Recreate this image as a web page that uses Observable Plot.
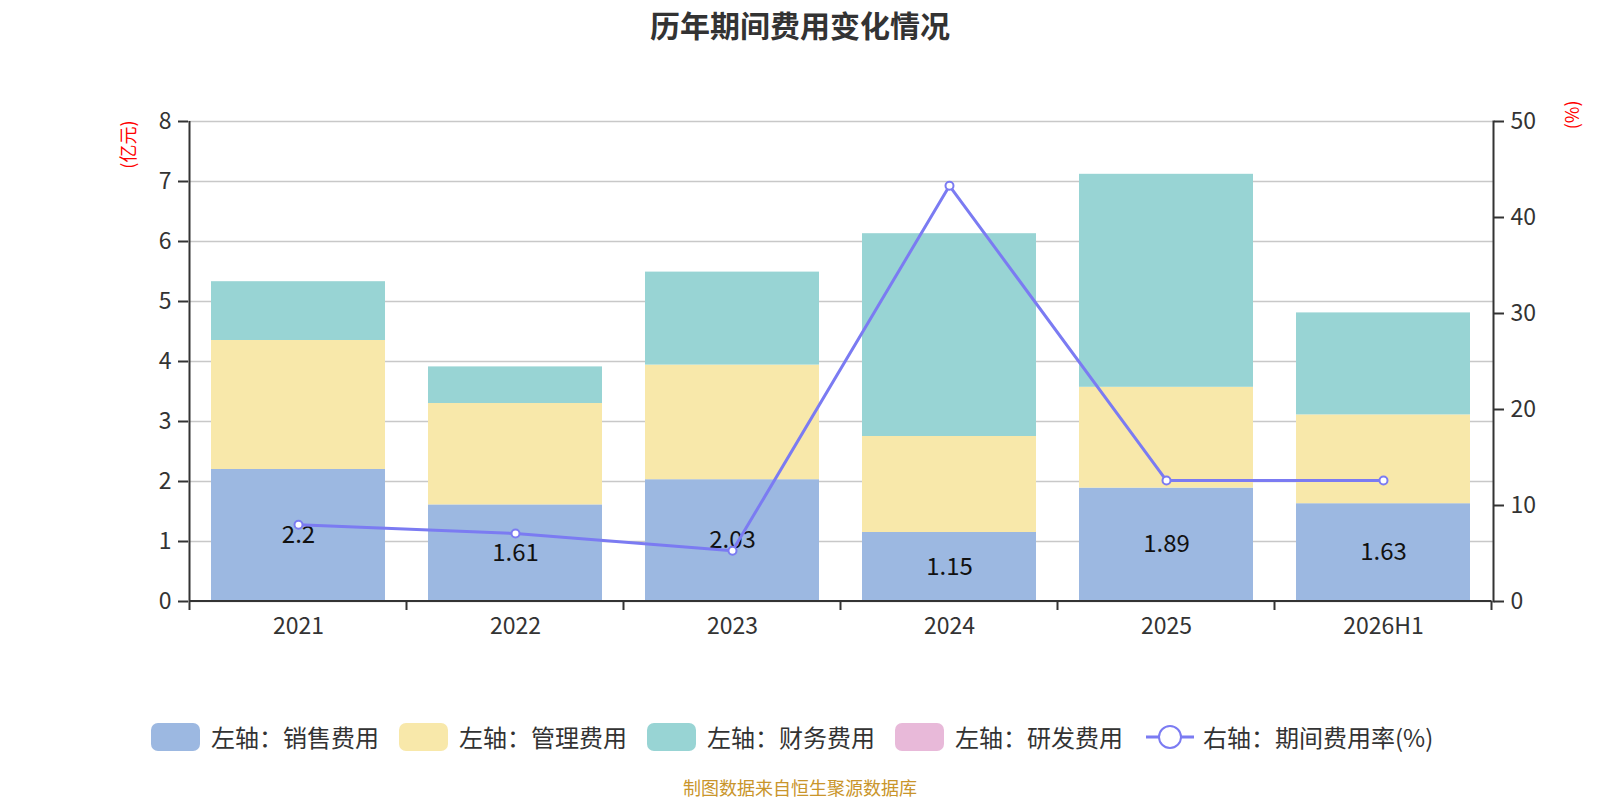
<!DOCTYPE html>
<html>
<head>
<meta charset="utf-8">
<script src="https://cdn.jsdelivr.net/npm/d3@7"></script>
<script src="https://cdn.jsdelivr.net/npm/@observablehq/plot@0.6"></script>
<style>
  html, body { margin: 0; padding: 0; background: #fff; }
  body { font-family: "Noto Sans CJK SC", "Noto Sans", sans-serif; }
  #wrap { position: relative; width: 1600px; height: 800px; overflow: hidden; }
  #title { position: absolute; left: 0; top: 2px; width: 1600px; text-align: center; font-size: 30px; font-weight: bold; color: #333; }
  .layer { position: absolute; left: 0; top: 0; }
  .leg { position: absolute; top: 719px; display: flex; align-items: center; font-size: 24px; color: #333; white-space: nowrap; }
  .sw { width: 49px; height: 28px; border-radius: 7px; margin-right: 11px; }
  #foot { position: absolute; left: 0; top: 774px; width: 1600px; text-align: center; font-size: 18px; color: #c9952b; }
</style>
</head>
<body>
<div id="wrap">
  <div id="title">历年期间费用变化情况</div>
  <div id="bars" class="layer"></div>
  <div id="line" class="layer"></div>
  <div id="legend"></div>
  <div id="foot">制图数据来自恒生聚源数据库</div>
</div>
<script>
const years = ["2021", "2022", "2023", "2024", "2025", "2026H1"];
const sales = [2.2, 1.61, 2.03, 1.15, 1.89, 1.63];
const admin = [2.15, 1.69, 1.91, 1.60, 1.68, 1.48];
const finance = [0.98, 0.61, 1.55, 3.38, 3.55, 1.70];
const rnd = [0, 0, 0, 0, 0, 0];
const rate = [8.0, 7.08, 5.28, 43.3, 12.6, 12.6];
const seriesNames = ["左轴：销售费用", "左轴：管理费用", "左轴：财务费用", "左轴：研发费用"];
const seriesColors = ["#9cb8e1", "#f8e8aa", "#98d4d4", "#e8b9d9"];
const lineName = "右轴：期间费用率(%)";
const lineColor = "#7b7bf2";
const leftTicks = [0, 1, 2, 3, 4, 5, 6, 7, 8];
const rightTicks = [0, 10, 20, 30, 40, 50];

const seriesValues = [sales, admin, finance, rnd];
const barData = [];
seriesNames.forEach((s, si) => years.forEach((y, i) => barData.push({year: y, series: s, value: seriesValues[si][i]})));
const salesData = years.map((y, i) => ({year: y, value: sales[i]}));
const rateData = years.map((y, i) => ({year: y, value: rate[i]}));

const W = 1600, H = 650;
const M = {top: 121, right: 107, bottom: 49, left: 188};
const font = "Noto Sans CJK SC, Noto Sans, sans-serif";
const xOpts = {domain: years, paddingInner: 0.2, paddingOuter: 0.1};

const barsPlot = Plot.plot({
  width: W, height: H,
  marginTop: M.top, marginRight: M.right, marginBottom: M.bottom, marginLeft: M.left,
  style: {fontFamily: font, background: "transparent", overflow: "visible"},
  x: {...xOpts, label: null},
  y: {domain: [0, 8], label: null},
  color: {domain: seriesNames, range: seriesColors},
  marks: [
    Plot.gridY(leftTicks, {stroke: "#c8c8c8", strokeOpacity: 1, strokeWidth: 1.3}),
    Plot.barY(barData, {x: "year", y: "value", fill: "series", order: null}),
    Plot.text(salesData, {x: "year", y: d => d.value / 2, text: d => String(d.value), fontSize: 24, fill: "#111"}),
    Plot.axisY(leftTicks, {anchor: "left", tickSize: 10, tickPadding: 7, fontSize: 23, color: "#333", stroke: "#333", strokeWidth: 2, tickFormat: d => String(d), label: null}),
    Plot.axisX({anchor: "bottom", tickSize: 0, tickPadding: 16, fontSize: 23, color: "#333", label: null}),
    Plot.text(["(亿元)"], {frameAnchor: "top-left", dx: -66, dy: -1, rotate: -90, textAnchor: "end", fill: "#f00", fontSize: 18})
  ]
});
document.getElementById("bars").appendChild(barsPlot);

// axis lines and band-boundary ticks from the x scale
const xs = barsPlot.scale("x");
const ys = barsPlot.scale("y");
const half = (xs.step - xs.bandwidth) / 2;
const bounds = years.map(y => xs.apply(y) - half);
bounds.push(bounds[bounds.length - 1] + xs.step);
const svgB = d3.select(barsPlot);
const g = svgB.append("g");
g.append("line").attr("x1", bounds[0]).attr("x2", bounds[bounds.length - 1]).attr("y1", ys.apply(0)).attr("y2", ys.apply(0)).attr("stroke", "#333").attr("stroke-width", 2);
g.append("line").attr("x1", bounds[0]).attr("x2", bounds[0]).attr("y1", ys.apply(0)).attr("y2", ys.apply(8)).attr("stroke", "#333").attr("stroke-width", 2);
g.selectAll(".bt").data(bounds).join("line").attr("x1", d => d).attr("x2", d => d).attr("y1", ys.apply(0)).attr("y2", ys.apply(0) + 9).attr("stroke", "#333").attr("stroke-width", 2);

const linePlot = Plot.plot({
  width: W, height: H,
  marginTop: M.top, marginRight: M.right, marginBottom: M.bottom, marginLeft: M.left,
  style: {fontFamily: font, background: "transparent", overflow: "visible"},
  x: {...xOpts, axis: null},
  y: {domain: [0, 50], label: null},
  marks: [
    Plot.axisY(rightTicks, {anchor: "right", tickSize: 10, tickPadding: 7, fontSize: 23, color: "#333", stroke: "#333", strokeWidth: 2, label: null}),
    Plot.frame({anchor: "right", stroke: "#333", strokeWidth: 2}),
    Plot.lineY(rateData, {x: "year", y: "value", stroke: lineColor, strokeWidth: 3}),
    Plot.dot(rateData, {x: "year", y: "value", r: 4, fill: "#fff", stroke: lineColor, strokeWidth: 2}),
    Plot.text(["(%)"], {frameAnchor: "top-right", dx: 73, dy: -21, rotate: -90, textAnchor: "end", fill: "#f00", fontSize: 18})
  ]
});
document.getElementById("line").appendChild(linePlot);

// legend
const legend = document.getElementById("legend");
const legLefts = [151, 399, 647, 895];
seriesNames.forEach((s, i) => {
  const d = document.createElement("div");
  d.className = "leg";
  d.style.left = legLefts[i] + "px";
  d.innerHTML = `<div class="sw" style="background:${seriesColors[i]}"></div><span>${s}</span>`;
  legend.appendChild(d);
});
const dl = document.createElement("div");
dl.className = "leg";
dl.style.left = "1145px";
dl.innerHTML = `<svg width="50" height="28" style="margin-right:8px"><line x1="1" x2="49" y1="14" y2="14" stroke="${lineColor}" stroke-width="3"/><circle cx="25" cy="14" r="11" fill="#fff" stroke="${lineColor}" stroke-width="2"/></svg><span>${lineName}</span>`;
legend.appendChild(dl);
</script>
</body>
</html>
